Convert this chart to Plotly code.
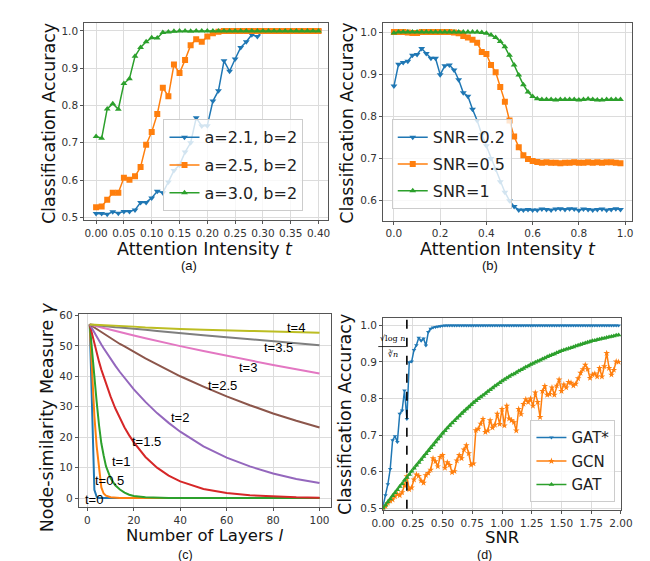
import plotly.graph_objects as go

W, H = 650, 561
BLUE, ORANGE, GREEN = "#1f77b4", "#ff7f0e", "#2ca02c"

# ---------------- panel (a) ----------------
a_t = [0.00, 0.01, 0.02, 0.03, 0.04, 0.05, 0.06, 0.07, 0.08, 0.09, 0.10, 0.11, 0.12, 0.13,
       0.14, 0.15, 0.16, 0.17, 0.18, 0.19, 0.20, 0.21, 0.22, 0.23, 0.24, 0.25, 0.26, 0.27,
       0.28, 0.29, 0.30, 0.31, 0.32, 0.33, 0.34, 0.35, 0.36, 0.37, 0.38, 0.39, 0.40]
a_21 = [0.510, 0.510, 0.508, 0.515, 0.511, 0.516, 0.516, 0.520, 0.540, 0.540, 0.552, 0.570,
        0.566, 0.595, 0.626, 0.640, 0.675, 0.700, 0.767, 0.745, 0.746, 0.812, 0.840, 0.920,
        0.892, 0.925, 0.956, 0.971, 0.990, 0.985, 1.0, 1.0, 1.0, 1.0, 1.0, 1.0, 1.0, 1.0,
        1.0, 1.0, 1.0]
a_25 = [0.527, 0.529, 0.547, 0.566, 0.566, 0.606, 0.601, 0.610, 0.635, 0.695, 0.729, 0.777,
        0.848, 0.825, 0.910, 0.887, 0.922, 0.962, 0.978, 0.971, 0.985, 0.994, 0.998, 1.0,
        1.0, 1.0, 1.0, 1.0, 1.0, 1.0, 1.0, 1.0, 1.0, 1.0, 1.0, 1.0, 1.0, 1.0, 1.0, 1.0, 1.0]
a_30 = [0.717, 0.712, 0.791, 0.805, 0.790, 0.859, 0.872, 0.932, 0.956, 0.971, 0.982, 0.981,
        0.996, 0.997, 0.999, 1.0, 1.0, 0.999, 1.0, 1.0, 1.0, 1.0, 1.0, 1.0, 1.0, 1.0, 1.0,
        1.0, 1.0, 1.0, 1.0, 1.0, 1.0, 1.0, 1.0, 1.0, 1.0, 1.0, 1.0, 1.0, 1.0]
a_names = ["a=2.1, b=2", "a=2.5, b=2", "a=3.0, b=2"]

# ---------------- panel (b) ----------------
b_t = [0.00, 0.02, 0.04, 0.06, 0.08, 0.10, 0.12, 0.14, 0.16, 0.18, 0.20, 0.22, 0.24, 0.26,
       0.28, 0.30, 0.32, 0.34, 0.36, 0.38, 0.40, 0.42, 0.44, 0.46, 0.48, 0.50, 0.52, 0.54,
       0.56, 0.58, 0.60, 0.62, 0.64, 0.66, 0.68, 0.70, 0.72, 0.74, 0.76, 0.78, 0.80, 0.82,
       0.84, 0.86, 0.88, 0.90, 0.92, 0.94, 0.96, 0.98]
b_02 = [0.872, 0.924, 0.928, 0.931, 0.945, 0.947, 0.961, 0.949, 0.938, 0.938, 0.899, 0.920,
        0.922, 0.910, 0.887, 0.856, 0.848, 0.817, 0.790, 0.757, 0.730, 0.700, 0.675, 0.645,
        0.620, 0.600, 0.586, 0.578, 0.578, 0.579, 0.578, 0.578, 0.580, 0.579, 0.578, 0.580,
        0.581, 0.579, 0.581, 0.580, 0.577, 0.580, 0.579, 0.578, 0.579, 0.580, 0.578, 0.579,
        0.581, 0.579]
b_05 = [1.0, 1.0, 1.0, 0.999, 0.998, 0.998, 1.0, 1.0, 1.0, 1.0, 1.0, 1.0, 1.0, 0.999, 0.997,
        0.991, 0.987, 0.982, 0.975, 0.953, 0.948, 0.922, 0.905, 0.870, 0.835, 0.790, 0.752,
        0.727, 0.708, 0.699, 0.694, 0.692, 0.690, 0.691, 0.690, 0.690, 0.689, 0.690, 0.690,
        0.691, 0.690, 0.690, 0.691, 0.690, 0.691, 0.690, 0.691, 0.691, 0.690, 0.689]
b_1 = [0.998, 1.0, 1.0, 1.0, 1.0, 1.0, 1.0, 1.0, 1.0, 1.0, 1.0, 1.0, 1.0, 1.0, 1.0, 1.0, 1.0,
       1.0, 1.0, 0.999, 0.997, 0.993, 0.987, 0.978, 0.965, 0.945, 0.922, 0.898, 0.875, 0.858,
       0.847, 0.842, 0.840, 0.840, 0.840, 0.839, 0.840, 0.840, 0.840, 0.840, 0.839, 0.840,
       0.841, 0.840, 0.839, 0.839, 0.840, 0.840, 0.840, 0.840]
b_names = ["SNR=0.2", "SNR=0.5", "SNR=1"]

# ---------------- panel (c) ----------------
c_l = [1, 2, 3, 4, 5, 6, 7, 8, 10, 12, 14, 16, 18, 20, 25, 30, 35, 40, 50, 60, 70, 80, 90, 100]
c_curves = {
    "t=0":   [57, 30, 2.7, 0.4, 0.05, 0, 0, 0, 0, 0, 0, 0, 0, 0, 0, 0, 0, 0, 0, 0, 0, 0, 0, 0],
    "t=0.5": [57, 40, 27, 17, 9, 3.5, 1.5, 0.8, 0.3, 0.1, 0.03, 0, 0, 0, 0, 0, 0, 0, 0, 0, 0, 0, 0, 0],
    "t=1":   [57, 48, 40, 31.5, 24, 18, 14, 10.5, 6.5, 4.2, 2.8, 1.8, 1.1, 0.7, 0.25, 0.08, 0.03,
              0, 0, 0, 0, 0, 0, 0],
    "t=1.5": [57, 53.7, 50.6, 47.6, 44.8, 42.2, 39.8, 37.5, 33.3, 29.5, 26.2, 23.2, 20.6, 18.3,
              13.5, 10.0, 7.4, 5.5, 3.0, 1.65, 0.9, 0.5, 0.27, 0.15],
    "t=2":   [57, 55.6, 54.3, 53.0, 51.6, 50.4, 49.2, 48.0, 45.6, 43.5, 41.4, 39.4, 37.5, 35.7,
              31.6, 27.9, 24.7, 21.8, 17.0, 13.3, 10.4, 8.1, 6.3, 4.95],
    "t=2.5": [57, 56.5, 56.0, 55.4, 54.9, 54.4, 53.9, 53.4, 52.5, 51.5, 50.6, 49.8, 48.9, 48.1,
              45.9, 43.9, 41.9, 40.0, 36.6, 33.4, 30.5, 27.8, 25.4, 23.2],
    "t=3":   [57, 56.8, 56.6, 56.4, 56.2, 56.0, 55.9, 55.7, 55.3, 54.9, 54.5, 54.2, 53.8, 53.4,
              52.5, 51.6, 50.8, 49.9, 48.3, 46.7, 45.2, 43.7, 42.3, 40.9],
    "t=3.5": [57, 56.9, 56.85, 56.8, 56.7, 56.65, 56.6, 56.5, 56.3, 56.1, 56.0, 55.9, 55.7, 55.6,
              55.3, 54.9, 54.6, 54.2, 53.5, 52.8, 52.2, 51.5, 50.9, 50.2],
    "t=4":   [57, 56.97, 56.95, 56.9, 56.9, 56.85, 56.8, 56.8, 56.7, 56.6, 56.5, 56.4, 56.4, 56.3,
              56.0, 55.8, 55.6, 55.5, 55.3, 55.0, 54.9, 54.7, 54.5, 54.3],
}
c_colors = ["#1f77b4", "#ff7f0e", "#2ca02c", "#d62728", "#9467bd", "#8c564b", "#e377c2",
            "#7f7f7f", "#bcbd22"]
c_label_x = [2.8, 9.4, 14.5, 25.6, 40, 58, 69.2, 82.3, 90]
c_label_y = [-0.3, 5.9, 12, 18.5, 26.6, 37, 43, 49.5, 56]

# ---------------- panel (d) ----------------
d_gatstar = [0.506, 0.535, 0.565, 0.607, 0.686, 0.697, 0.681, 0.758, 0.767, 0.822, 0.744, 0.899,
             0.901, 0.933, 0.946, 0.966, 0.958, 0.964, 0.945, 0.982, 0.991, 0.994, 0.996, 0.997,
             0.998, 0.999, 1.0, 1.0, 1.0, 1.0, 1.0, 1.0, 1.0, 1.0, 1.0, 1.0, 1.0, 1.0, 1.0, 1.0,
             1.0, 1.0, 1.0, 1.0, 1.0, 1.0, 1.0, 1.0, 1.0, 1.0, 1.0, 1.0, 1.0, 1.0, 1.0, 1.0,
             1.0, 1.0, 1.0, 1.0, 1.0, 1.0, 1.0, 1.0, 1.0, 1.0, 1.0, 1.0, 1.0, 1.0, 1.0, 1.0,
             1.0, 1.0, 1.0, 1.0, 1.0, 1.0, 1.0, 1.0, 1.0, 1.0, 1.0, 1.0, 1.0, 1.0, 1.0, 1.0,
             1.0, 1.0, 1.0, 1.0, 1.0, 1.0, 1.0, 1.0, 1.0, 1.0, 1.0, 1.0]
d_gcn = [0.500, 0.505, 0.514, 0.520, 0.523, 0.532, 0.538, 0.535, 0.543, 0.562, 0.587, 0.551,
         0.556, 0.578, 0.592, 0.588, 0.575, 0.569, 0.590, 0.596, 0.605, 0.636, 0.628, 0.614,
         0.640, 0.645, 0.610, 0.625, 0.618, 0.598, 0.601, 0.630, 0.645, 0.636, 0.660, 0.672,
         0.650, 0.618, 0.622, 0.713, 0.717, 0.731, 0.744, 0.708, 0.712, 0.740, 0.720, 0.728,
         0.758, 0.730, 0.771, 0.726, 0.780, 0.745, 0.740, 0.735, 0.712, 0.771, 0.757, 0.785,
         0.798, 0.790, 0.800, 0.780, 0.816, 0.790, 0.749, 0.820, 0.834, 0.810, 0.812, 0.830,
         0.810, 0.835, 0.852, 0.820, 0.838, 0.830, 0.845, 0.843, 0.835, 0.840, 0.855, 0.870,
         0.880, 0.892, 0.880, 0.856, 0.865, 0.868, 0.860, 0.883, 0.860, 0.888, 0.924, 0.883,
         0.865, 0.878, 0.901, 0.900]
d_gat = [0.500, 0.508, 0.517, 0.525, 0.534, 0.542, 0.550, 0.559, 0.567, 0.576, 0.584, 0.592,
         0.601, 0.609, 0.617, 0.625, 0.633, 0.641, 0.649, 0.657, 0.665, 0.673, 0.681, 0.689,
         0.697, 0.705, 0.712, 0.719, 0.726, 0.733, 0.739, 0.746, 0.752, 0.759, 0.765, 0.771,
         0.777, 0.783, 0.789, 0.794, 0.799, 0.804, 0.809, 0.814, 0.819, 0.824, 0.829, 0.834,
         0.838, 0.843, 0.848, 0.852, 0.856, 0.860, 0.864, 0.867, 0.871, 0.875, 0.879, 0.882,
         0.886, 0.889, 0.893, 0.896, 0.899, 0.902, 0.905, 0.908, 0.911, 0.914, 0.917, 0.920,
         0.922, 0.925, 0.928, 0.931, 0.933, 0.935, 0.937, 0.939, 0.941, 0.944, 0.946, 0.948,
         0.950, 0.952, 0.954, 0.956, 0.958, 0.959, 0.961, 0.962, 0.964, 0.965, 0.967, 0.968,
         0.970, 0.971, 0.973, 0.974]
d_step = 0.02
d_names = ["GAT*", "GCN", "GAT"]
d_threshold = 0.2

fig = go.Figure()

# panel a
for y, c, sym, nm in zip([a_21, a_25, a_30], [BLUE, ORANGE, GREEN],
                         ["triangle-down", "square", "triangle-up"], a_names):
    fig.add_trace(go.Scatter(x=a_t[:len(y)], y=y, mode="lines+markers", name=nm, legendgroup="a" + nm,
                             line=dict(color=c, width=1.5), marker=dict(symbol=sym, size=6, color=c),
                             xaxis="x", yaxis="y", legend="legend"))
# panel b
for y, c, sym, nm in zip([b_02, b_05, b_1], [BLUE, ORANGE, GREEN],
                         ["triangle-down", "square", "triangle-up"], b_names):
    fig.add_trace(go.Scatter(x=b_t[:len(y)], y=y, mode="lines+markers", name=nm, legendgroup="b" + nm,
                             line=dict(color=c, width=1.5), marker=dict(symbol=sym, size=6, color=c),
                             xaxis="x2", yaxis="y2", legend="legend2"))
# panel c
for (nm, y), c in zip(c_curves.items(), c_colors):
    fig.add_trace(go.Scatter(x=c_l[:len(y)], y=y, mode="lines", name=nm, showlegend=False,
                             line=dict(color=c, width=2), xaxis="x3", yaxis="y3"))
# panel d
for y, c, sym, sz, nm in zip([d_gatstar, d_gcn, d_gat], [BLUE, ORANGE, GREEN],
                             ["triangle-down", "star", "triangle-up"], [4, 5, 5], d_names):
    xs = [round(i * d_step, 2) for i in range(len(y))]
    fig.add_trace(go.Scatter(x=xs, y=y, mode="lines+markers", name=nm, legendgroup="d" + nm,
                             line=dict(color=c, width=1.5), marker=dict(symbol=sym, size=sz, color=c),
                             xaxis="x4", yaxis="y4", legend="legend3"))
fig.add_trace(go.Scatter(x=[d_threshold, d_threshold], y=[0.4, 1.1], mode="lines", showlegend=False,
                         line=dict(color="black", width=1.6, dash="dash"), xaxis="x4", yaxis="y4"))


def px_dom_x(a, b):
    return [a / W, b / W]


def px_dom_y(top, bot):
    return [1 - bot / H, 1 - top / H]


TICKF = dict(family="DejaVu Sans", size=10.5, color="#333")
common = dict(showline=True, linecolor="#555", linewidth=1, mirror=True, showgrid=True,
              gridcolor="#dcdcdc", gridwidth=1, ticks="outside", ticklen=3, tickcolor="#555",
              zeroline=False, tickfont=TICKF)

fig.update_layout(
    width=W, height=H, margin=dict(l=0, r=0, t=0, b=0), paper_bgcolor="white",
    plot_bgcolor="white",
    xaxis=dict(domain=px_dom_x(66.7, 320), range=[-0.0213, 0.4173], tickvals=[0, .05, .1, .15, .2, .25, .3, .35, .4],
               tickformat=".2f", anchor="y", **common),
    yaxis=dict(domain=px_dom_y(10, 210.7), range=[0.492, 1.0219], tickvals=[.5, .6, .7, .8, .9, 1.0],
               tickformat=".1f", anchor="x", **common),
    xaxis2=dict(domain=px_dom_x(377, 635), range=[-0.047, 1.028], tickvals=[0, .2, .4, .6, .8, 1.0],
                tickformat=".1f", anchor="y2", **common),
    yaxis2=dict(domain=px_dom_y(10, 211), range=[0.5526, 1.022], tickvals=[.6, .7, .8, .9, 1.0],
                tickformat=".1f", anchor="x2", **common),
    xaxis3=dict(domain=px_dom_x(61, 323), range=[-3.73, 104.98], tickvals=[0, 20, 40, 60, 80, 100],
                anchor="y3", **common),
    yaxis3=dict(domain=px_dom_y(306.3, 502.3), range=[-3.0, 60.32], tickvals=[0, 10, 20, 30, 40, 50, 60],
                anchor="x3", **common),
    xaxis4=dict(domain=px_dom_x(377, 624), range=[0, 2.0], tickvals=[0, .25, .5, .75, 1.0, 1.25, 1.5, 1.75, 2.0],
                tickformat=".2f", anchor="y4", **common),
    yaxis4=dict(domain=px_dom_y(310.2, 505.2), range=[0.4946, 1.0197], tickvals=[.5, .6, .7, .8, .9, 1.0],
                tickformat=".1f", anchor="x4", **common),
)

legcommon = dict(xanchor="left", yanchor="top", bgcolor="rgba(255,255,255,0.8)", bordercolor="#cccccc",
                 borderwidth=1)
fig.update_layout(
    legend=dict(x=149 / W, y=1 - 108 / H, font=dict(family="DejaVu Sans", size=16, color="#222"),
                tracegroupgap=4, **legcommon),
    legend2=dict(x=386 / W, y=1 - 108 / H, font=dict(family="DejaVu Sans", size=16, color="#222"),
                 tracegroupgap=3, **legcommon),
    legend3=dict(x=530 / W, y=1 - 414 / H, font=dict(family="DejaVu Sans", size=15, color="#222"),
                 tracegroupgap=1, **legcommon),
)

TITLEF = dict(family="DejaVu Sans", size=17.5, color="#111")
TITLEF2 = dict(family="DejaVu Sans", size=16.5, color="#111")
CAPF = dict(family="Liberation Sans", size=13, color="#111")
CAPF2 = dict(family="Liberation Sans", size=12.5, color="#111")
ann = []


def add_text(x, y, text, font, angle=0):
    ann.append(dict(x=x / W, y=1 - y / H, xref="paper", yref="paper", text=text, showarrow=False,
                    font=font, textangle=angle, xanchor="center", yanchor="middle"))


add_text(192, 240, "Attention Intensity <i>t</i>", TITLEF)
add_text(507, 240, "Attention Intensity <i>t</i>", TITLEF)
add_text(192, 531, "Number of Layers <i>l</i>", TITLEF2)
add_text(500, 533, "SNR", TITLEF2)
add_text(30, 112, "Classification Accuracy", TITLEF, -90)
add_text(340, 112, "Classification Accuracy", TITLEF, -90)
add_text(28, 411, "Node-similarity Measure <i>γ</i>", TITLEF, -90)
add_text(338, 408, "Classification Accuracy", TITLEF, -90)
add_text(175, 257, "(a)", CAPF)
add_text(488, 257, "(b)", CAPF)
add_text(172, 551, "(c)", CAPF2)
add_text(482, 551, "(d)", CAPF2)

LBLF = dict(family="Liberation Sans", size=13, color="black")
for nm, lx, ly in zip(c_curves.keys(), c_label_x, c_label_y):
    ann.append(dict(x=lx, y=ly, xref="x3", yref="y3", text=nm, showarrow=False, font=LBLF,
                    xanchor="center", yanchor="middle"))

FRACF = dict(family="DejaVu Serif", size=8, color="black")
ann.append(dict(x=387 / W, y=1 - 331 / H, xref="paper", yref="paper", text="√log <i>n</i>",
                showarrow=False, font=FRACF, xanchor="center", yanchor="middle"))
ann.append(dict(x=387 / W, y=1 - 346.5 / H, xref="paper", yref="paper", text="∛<i>n</i>",
                showarrow=False, font=FRACF, xanchor="center", yanchor="middle"))
fig.update_layout(annotations=ann)
fig.add_shape(type="line", xref="paper", yref="paper", x0=372 / W, x1=401 / W, y0=1 - 339 / H,
              y1=1 - 339 / H, line=dict(color="black", width=0.8))

fig.write_html("out.html")
